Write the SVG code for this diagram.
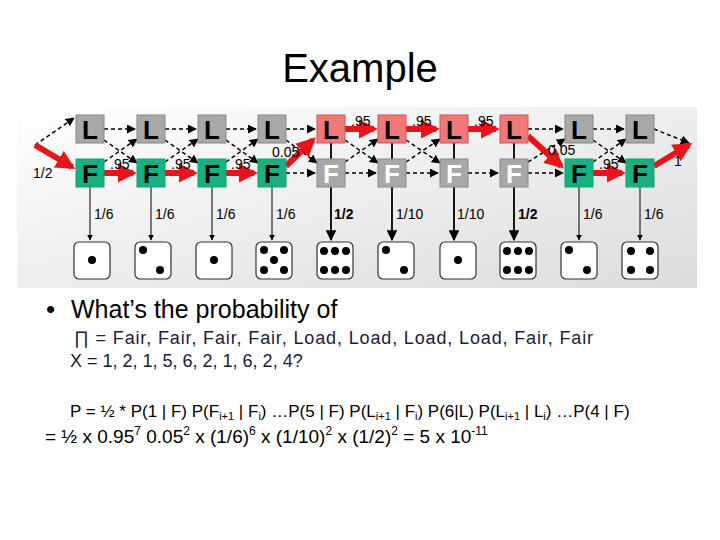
<svg xmlns="http://www.w3.org/2000/svg" width="720" height="540" viewBox="0 0 720 540">
<defs>
<linearGradient id="bg" x1="0" y1="0" x2="1" y2="1"><stop offset="0" stop-color="#ffffff"/><stop offset="1" stop-color="#dcdcdc"/></linearGradient>
<marker id="ah" viewBox="0 0 10 10" refX="9" refY="5" markerWidth="6" markerHeight="6" orient="auto"><path d="M0,0L10,5L0,10z" fill="#000"/></marker>
<marker id="rh" viewBox="0 0 10 10" refX="8" refY="5" markerWidth="3.2" markerHeight="3.2" orient="auto"><path d="M0,0L10,5L0,10z" fill="#e8141a"/></marker>
</defs>
<style>
.t{font-family:"Liberation Sans",Arial,sans-serif}
.n{font-family:"Liberation Sans",Arial,sans-serif;font-weight:bold;font-size:26px;text-anchor:middle}
.d{stroke:#000;stroke-width:1.5;stroke-dasharray:4,3;fill:none;marker-end:url(#ah)}
.r{stroke:#e8141a;stroke-width:6;fill:none;marker-end:url(#rh)}
.v{stroke:#000;stroke-width:1;fill:none;marker-end:url(#ah)}
.vb{stroke:#000;stroke-width:1.8;fill:none;marker-end:url(#ah)}
.lab{font-family:"Liberation Sans",Arial,sans-serif;font-size:14px}
.die{fill:#fff;stroke:#333;stroke-width:1.2}
</style>
<rect width="720" height="540" fill="#fff"/>
<text class="t" x="360" y="82" font-size="40" text-anchor="middle">Example</text>
<rect x="17" y="107" width="680" height="181" fill="url(#bg)"/>
<g id="connectors">
<path class="d" d="M35,145 L74,118"/>
<path class="d" d="M104,129 H135"/><path class="d" d="M165,129 H196"/><path class="d" d="M226,129 H256"/><path class="d" d="M286,129 H315"/>
<path class="d" d="M528,129 H563"/><path class="d" d="M593,129 H624"/>
<path class="d" d="M286,173 H315"/><path class="d" d="M345,173 H376"/><path class="d" d="M406,173 H438"/><path class="d" d="M468,173 H498"/><path class="d" d="M528,173 H563"/>
<g>
<path class="d" d="M104,140 L137,163"/><path class="d" d="M104,162 L137,139"/>
<path class="d" d="M165,140 L198,163"/><path class="d" d="M165,162 L198,139"/>
<path class="d" d="M226,140 L258,163"/><path class="d" d="M226,162 L258,139"/>
<path class="d" d="M286,140 L317,163"/>
<path class="d" d="M345,140 L378,163"/><path class="d" d="M345,162 L378,139"/>
<path class="d" d="M406,140 L440,163"/><path class="d" d="M406,162 L440,139"/>
<path class="d" d="M528,162 L565,139"/>
<path class="d" d="M593,140 L626,163"/><path class="d" d="M593,162 L626,139"/>
</g>
<path class="d" d="M654,129 L689,143"/>
<path class="r" d="M35,145 L72,167"/>
<path class="r" d="M104,173 H133"/><path class="r" d="M165,173 H194"/><path class="r" d="M226,173 H254"/>
<path class="r" d="M286,166 L313,140"/>
<path class="r" d="M345,129 H374"/><path class="r" d="M406,129 H436"/><path class="r" d="M468,129 H496"/>
<path class="r" d="M528,136 L561,166"/>
<path class="r" d="M593,173 H622"/>
<path class="r" d="M654,166 L689,145"/>
<path class="v" d="M90,187 V240"/><path class="v" d="M151,187 V240"/><path class="v" d="M212,187 V240"/><path class="v" d="M272,187 V240"/>
<path class="vb" d="M331,143 V240"/><path class="vb" d="M392,143 V240"/><path class="vb" d="M454,143 V240"/><path class="vb" d="M514,143 V240"/>
<path class="v" d="M579,187 V240"/><path class="v" d="M640,187 V240"/>
</g>
<g id="L1"><rect x="76" y="115" width="28" height="28" fill="#a8a8a8" stroke="#888"/><text class="n" x="90" y="139">L</text></g>
<g id="L2"><rect x="137" y="115" width="28" height="28" fill="#a8a8a8" stroke="#888"/><text class="n" x="151" y="139">L</text></g>
<g id="L3"><rect x="198" y="115" width="28" height="28" fill="#a8a8a8" stroke="#888"/><text class="n" x="212" y="139">L</text></g>
<g id="L4"><rect x="258" y="115" width="28" height="28" fill="#a8a8a8" stroke="#888"/><text class="n" x="272" y="139">L</text></g>
<g id="L5"><rect x="317" y="115" width="28" height="28" fill="#f07878" stroke="#c55"/><text class="n" x="331" y="139">L</text></g>
<g id="L6"><rect x="378" y="115" width="28" height="28" fill="#f07878" stroke="#c55"/><text class="n" x="392" y="139">L</text></g>
<g id="L7"><rect x="440" y="115" width="28" height="28" fill="#f07878" stroke="#c55"/><text class="n" x="454" y="139">L</text></g>
<g id="L8"><rect x="500" y="115" width="28" height="28" fill="#f07878" stroke="#c55"/><text class="n" x="514" y="139">L</text></g>
<g id="L9"><rect x="565" y="115" width="28" height="28" fill="#a8a8a8" stroke="#888"/><text class="n" x="579" y="139">L</text></g>
<g id="L10"><rect x="626" y="115" width="28" height="28" fill="#a8a8a8" stroke="#888"/><text class="n" x="640" y="139">L</text></g>
<g id="F1"><rect x="76" y="159" width="28" height="28" fill="#1aaf82" stroke="#0a6"/><text class="n" x="90" y="183">F</text></g>
<g id="F2"><rect x="137" y="159" width="28" height="28" fill="#1aaf82" stroke="#0a6"/><text class="n" x="151" y="183">F</text></g>
<g id="F3"><rect x="198" y="159" width="28" height="28" fill="#1aaf82" stroke="#0a6"/><text class="n" x="212" y="183">F</text></g>
<g id="F4"><rect x="258" y="159" width="28" height="28" fill="#1aaf82" stroke="#0a6"/><text class="n" x="272" y="183">F</text></g>
<g id="F5"><rect x="317" y="159" width="28" height="28" fill="#a8a8a8" stroke="#888"/><text class="n" x="331" y="183" fill="#fff">F</text></g>
<g id="F6"><rect x="378" y="159" width="28" height="28" fill="#a8a8a8" stroke="#888"/><text class="n" x="392" y="183" fill="#fff">F</text></g>
<g id="F7"><rect x="440" y="159" width="28" height="28" fill="#a8a8a8" stroke="#888"/><text class="n" x="454" y="183" fill="#fff">F</text></g>
<g id="F8"><rect x="500" y="159" width="28" height="28" fill="#a8a8a8" stroke="#888"/><text class="n" x="514" y="183" fill="#fff">F</text></g>
<g id="F9"><rect x="565" y="159" width="28" height="28" fill="#1aaf82" stroke="#0a6"/><text class="n" x="579" y="183">F</text></g>
<g id="F10"><rect x="626" y="159" width="28" height="28" fill="#1aaf82" stroke="#0a6"/><text class="n" x="640" y="183">F</text></g>
<g id="labels" class="lab">
<text x="33" y="178">1/2</text>
<text x="110" y="169">.95</text><text x="171" y="169">.95</text><text x="231" y="169">.95</text>
<text x="272" y="157">0.05</text>
<text x="351" y="126">.95</text><text x="412" y="126">.95</text><text x="474" y="126">.95</text>
<text x="548" y="155">0.05</text>
<text x="599" y="169">.95</text>
<text x="674" y="166">1</text>
<text x="94" y="219">1/6</text><text x="155" y="219">1/6</text><text x="216" y="219">1/6</text><text x="276" y="219">1/6</text>
<text x="334" y="219" font-weight="bold">1/2</text><text x="396" y="219">1/10</text><text x="457" y="219">1/10</text><text x="518" y="219" font-weight="bold">1/2</text>
<text x="583" y="219">1/6</text><text x="644" y="219">1/6</text>
</g>
<g id="dice">
<rect class="die" x="74" y="242" width="36" height="37" rx="5"/><circle cx="92" cy="260" r="4"/>
<rect class="die" x="135" y="242" width="36" height="37" rx="5"/><circle cx="143" cy="250" r="4"/><circle cx="160" cy="270" r="4"/>
<rect class="die" x="196" y="242" width="36" height="37" rx="5"/><circle cx="214" cy="260" r="4"/>
<rect class="die" x="256" y="242" width="36" height="37" rx="5"/><circle cx="264" cy="250" r="4"/><circle cx="284" cy="250" r="4"/><circle cx="274" cy="260" r="4"/><circle cx="264" cy="270" r="4"/><circle cx="284" cy="270" r="4"/>
<rect class="die" x="317" y="242" width="36" height="37" rx="5"/><circle cx="324" cy="251" r="4"/><circle cx="335" cy="251" r="4"/><circle cx="346" cy="251" r="4"/><circle cx="324" cy="270" r="4"/><circle cx="335" cy="270" r="4"/><circle cx="346" cy="270" r="4"/>
<rect class="die" x="378" y="242" width="36" height="37" rx="5"/><circle cx="386" cy="250" r="4"/><circle cx="404" cy="270" r="4"/>
<rect class="die" x="440" y="242" width="36" height="37" rx="5"/><circle cx="458" cy="260" r="4"/>
<rect class="die" x="500" y="242" width="36" height="37" rx="5"/><circle cx="507" cy="251" r="4"/><circle cx="518" cy="251" r="4"/><circle cx="529" cy="251" r="4"/><circle cx="507" cy="270" r="4"/><circle cx="518" cy="270" r="4"/><circle cx="529" cy="270" r="4"/>
<rect class="die" x="561" y="242" width="36" height="37" rx="5"/><circle cx="569" cy="250" r="4"/><circle cx="587" cy="270" r="4"/>
<rect class="die" x="622" y="242" width="36" height="37" rx="5"/><circle cx="631" cy="251" r="4"/><circle cx="650" cy="251" r="4"/><circle cx="631" cy="270" r="4"/><circle cx="650" cy="270" r="4"/>
</g>
<text class="t" x="46" y="318" font-size="26">•</text>
<text class="t" x="71" y="318" font-size="25">What’s the probability of</text>
<text class="t" x="74" y="344" font-size="18" fill="#1a1a40" textLength="519">∏ = Fair, Fair, Fair, Fair, Load, Load, Load, Load, Fair, Fair</text>
<text class="t" x="70" y="367" font-size="18" fill="#1a1a40">X = 1, 2, 1, 5, 6, 2, 1, 6, 2, 4?</text>
<text class="t" x="70" y="417" font-size="17">P = ½ * P(1 | F) P(F<tspan font-size="11" dy="3">i+1</tspan><tspan dy="-3"> | F</tspan><tspan font-size="11" dy="3">i</tspan><tspan dy="-3">) …P(5 | F) P(L</tspan><tspan font-size="11" dy="3">i+1</tspan><tspan dy="-3"> | F</tspan><tspan font-size="11" dy="3">i</tspan><tspan dy="-3">) P(6|L) P(L</tspan><tspan font-size="11" dy="3">i+1</tspan><tspan dy="-3"> | L</tspan><tspan font-size="11" dy="3">i</tspan><tspan dy="-3">) …P(4 | F)</tspan></text>
<text class="t" x="45" y="443" font-size="19">= ½ x 0.95<tspan font-size="12" dy="-8">7</tspan><tspan dy="8"> 0.05</tspan><tspan font-size="12" dy="-8">2</tspan><tspan dy="8"> x (1/6)</tspan><tspan font-size="12" dy="-8">6</tspan><tspan dy="8"> x (1/10)</tspan><tspan font-size="12" dy="-8">2</tspan><tspan dy="8"> x (1/2)</tspan><tspan font-size="12" dy="-8">2</tspan><tspan dy="8"> = 5 x 10</tspan><tspan font-size="12" dy="-8">-11</tspan></text>
</svg>
